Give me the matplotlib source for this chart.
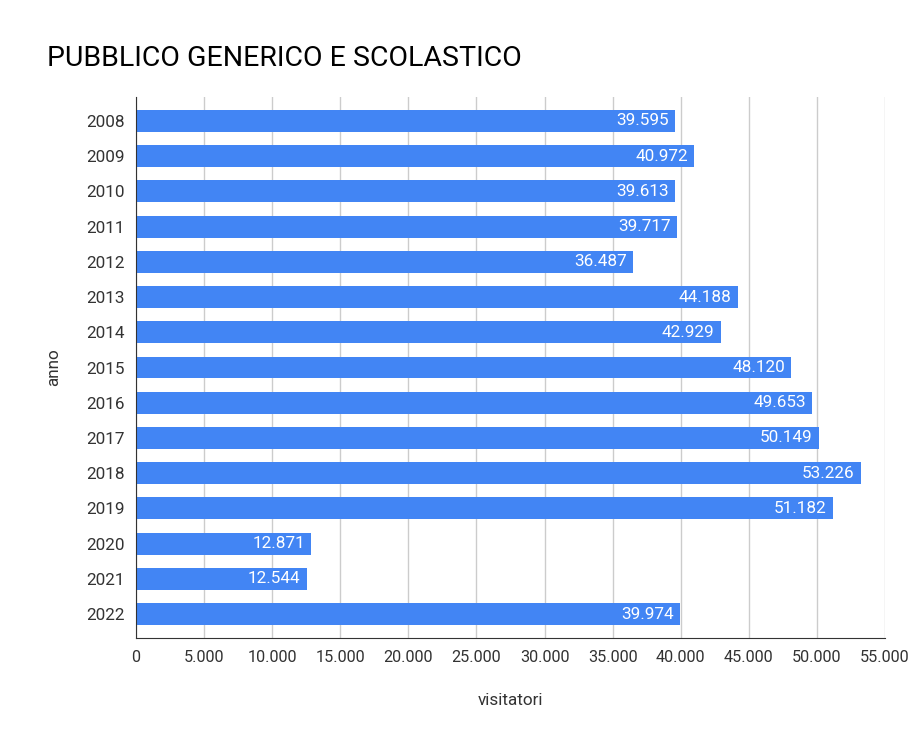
import matplotlib
matplotlib.use("Agg")
import matplotlib.pyplot as plt
from matplotlib.ticker import FuncFormatter

years = ["2008", "2009", "2010", "2011", "2012", "2013", "2014", "2015",
         "2016", "2017", "2018", "2019", "2020", "2021", "2022"]
visitors = [39595, 40972, 39613, 39717, 36487, 44188, 42929, 48120,
            49653, 50149, 53226, 51182, 12871, 12544, 39974]
xticks = [0, 5000, 10000, 15000, 20000, 25000, 30000, 35000, 40000, 45000, 50000, 55000]

plt.rcParams['font.family'] = ['Roboto', 'DejaVu Sans']

def fmt(v):
    return f"{int(v):,}".replace(",", ".")

fig = plt.figure(figsize=(9.09, 7.35), dpi=100)
ax = fig.add_axes([0.1496, 0.132, 0.8240, 0.736])

color = "#4285F4"
pos = list(range(len(years)))
ax.barh(pos, visitors, height=0.62, color=color, zorder=3)
for p, v in zip(pos, visitors):
    ax.text(v - 450, p, fmt(v), ha="right", va="center", color="white",
            fontsize=12.3, zorder=4)

ax.set_yticks(pos)
ax.set_yticklabels(years)
ax.set_ylim(len(years) - 1 + 0.68, -0.68)
ax.set_xlim(0, 55000)
ax.set_xticks(xticks)
ax.xaxis.set_major_formatter(FuncFormatter(lambda v, _: fmt(v)))
ax.tick_params(axis="both", length=0, labelcolor="#333333")
ax.tick_params(axis="y", labelsize=12.3, pad=8)
ax.tick_params(axis="x", labelsize=11.7, pad=9)
ax.grid(axis="x", color="#cccccc", linewidth=1, zorder=0)
for s in ["top", "right"]:
    ax.spines[s].set_visible(False)
ax.spines["left"].set_color("#333333")
ax.spines["bottom"].set_color("#333333")
ax.spines["left"].set_zorder(5)
ax.spines["bottom"].set_zorder(5)

ax.set_xlabel("visitatori", fontsize=12.3, color="#333333", labelpad=20)
ax.set_ylabel("anno", fontsize=12.3, color="#333333", labelpad=18)

fig.text(47 / 909, 1 - 58 / 735, "PUBBLICO GENERICO E SCOLASTICO",
         fontsize=20.5, color="#000000", ha="left", va="center")

fig.savefig("out.png", dpi=100, facecolor="white")
